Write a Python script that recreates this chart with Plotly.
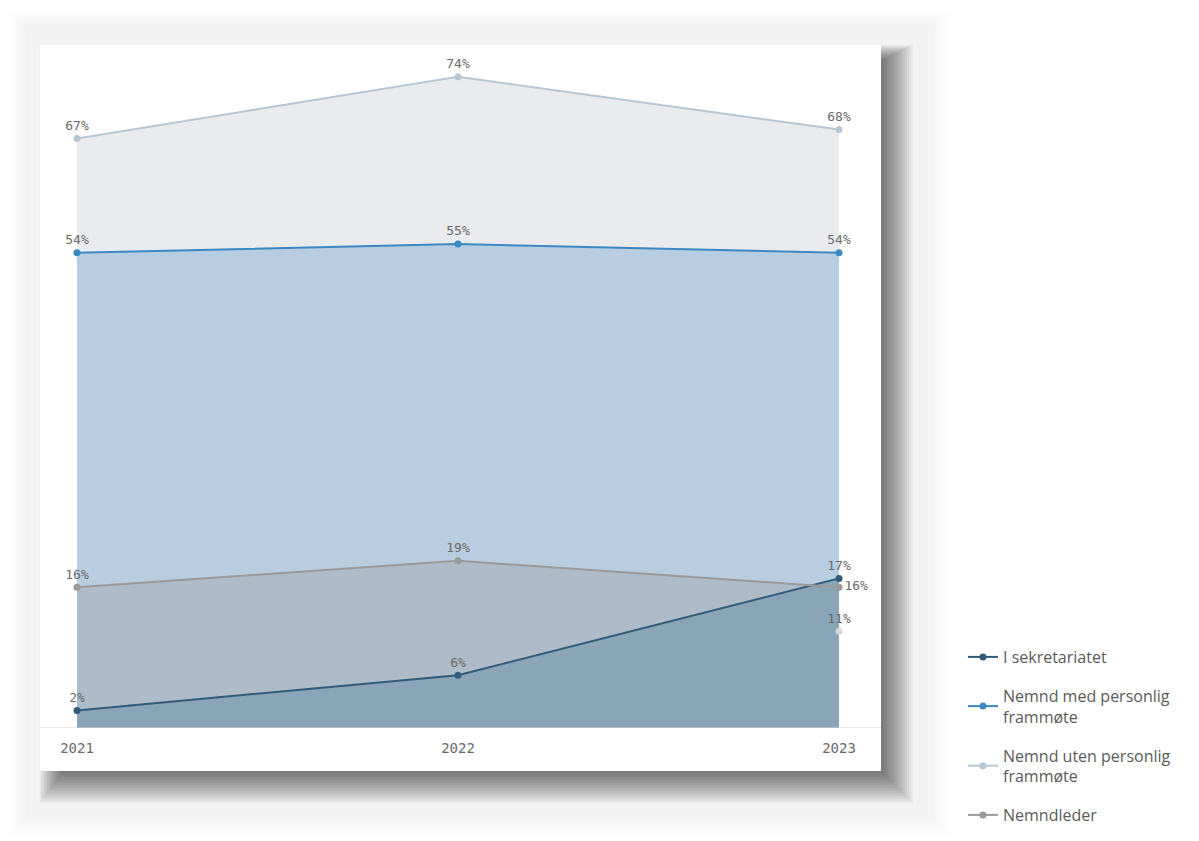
import plotly.graph_objects as go

# ---------------- data ----------------
years = [2021, 2022, 2023]
year_labels = ["2021", "2022", "2023"]
sekretariatet = [2, 6, 17]
nemnd_med = [54, 55, 54]
nemnd_uten = [67, 74, 68]
nemndleder = [16, 19, 16]
ekstra_year = [2023]
ekstra_value = [11]

names = {
    "sek": "I sekretariatet",
    "med": "Nemnd med personlig<br>frammøte",
    "uten": "Nemnd uten personlig<br>frammøte",
    "led": "Nemndleder",
}

# ---------------- geometry (page pixels; the page body has an 8px margin) ----------------
OFF = 8
W, H = 1199 - OFF, 841 - OFF
CARD_L, CARD_R, CARD_T, CARD_B = 40, 881, 45, 771
BASE_Y = 728
ML, MR, MT, MB = CARD_L - OFF, W - (CARD_R - OFF), CARD_T - OFF, H - (BASE_Y - OFF)
PW, PH = W - ML - MR, H - MT - MB

def px(x):  # page x -> paper
    return (x - OFF - ML) / PW

def py(y):  # page y -> paper
    return (H - MB - (y - OFF)) / PH

def cx(x):  # page x -> container fraction
    return (x - OFF) / W

def cy(y):  # page y -> container fraction
    return 1 - (y - OFF) / H

label_font = dict(family="DejaVu Sans Mono", size=13, color="#6a6a6a")
tick_font = dict(family="DejaVu Sans Mono", size=14, color="#6a6a6a")

fig = go.Figure()

# Filled areas (drawn from largest to smallest)
fills = [
    (nemnd_uten, "#e9ebef"),
    (nemnd_med, "#b8cde0"),
    (nemndleder, "#adbcc8"),
    (sekretariatet, "#8aa5b7"),
]
for vals, col in fills:
    fig.add_trace(go.Scatter(
        x=years, y=vals, mode="none", fill="tozeroy", fillcolor=col,
        showlegend=False, hoverinfo="skip"))

def txt(vals):
    return [f"{v}%" for v in vals]

lines = [
    ("sek", sekretariatet, "#2f5b79", ["top center"] * 3),
    ("med", nemnd_med, "#3b88c2", ["top center"] * 3),
    ("uten", nemnd_uten, "#b6c6d3", ["top center"] * 3),
    ("led", nemndleder, "#9a9a9a", ["top center", "top center", "middle right"]),
]
for key, vals, col, pos in lines:
    fig.add_trace(go.Scatter(
        x=years, y=vals, name=names[key], legendgroup=key,
        mode="lines+markers+text", text=txt(vals), textposition=pos,
        textfont=label_font,
        line=dict(color=col, width=2), marker=dict(color=col, size=7)))

fig.add_trace(go.Scatter(
    x=ekstra_year, y=ekstra_value, mode="markers+text", text=txt(ekstra_value),
    textposition="top center", textfont=label_font, showlegend=False,
    marker=dict(color="#d3d8dc", size=7)))

# Outer faint glow, drop shadow, white card
shapes = []
for k in range(6):
    x0, y0, x1, y1 = 10 + 3 * k, 10 + 3 * k, 948 - 3 * k, 836 - 3 * k
    shapes.append(dict(type="rect", xref="paper", yref="paper",
                       x0=px(x0), x1=px(x1), y0=py(y1), y1=py(y0),
                       fillcolor="rgba(0,0,0,0.006)", line=dict(width=0),
                       layer="below"))
for k in range(16):
    x0, y0 = 62 - 1.5 * k, 60 - 1.0 * k
    x1, y1 = 883 + 2 * k, 773 + 2 * k
    shapes.append(dict(type="rect", xref="paper", yref="paper",
                       x0=px(x0), x1=px(x1), y0=py(y1), y1=py(y0),
                       fillcolor="rgba(0,0,0,0.038)", line=dict(width=0),
                       layer="below"))
shapes.append(dict(type="rect", xref="paper", yref="paper",
                   x0=px(CARD_L), x1=px(CARD_R), y0=py(CARD_B), y1=py(CARD_T),
                   fillcolor="white", line=dict(width=0), layer="below"))

fig.update_layout(
    width=W, height=H,
    margin=dict(l=ML, r=MR, t=MT, b=MB, autoexpand=False),
    paper_bgcolor="white", plot_bgcolor="rgba(0,0,0,0)",
    shapes=shapes,
    xaxis=dict(range=[2021 - 37 / 381, 2023 + 42 / 381], tickvals=years,
               ticktext=year_labels, showgrid=False, zeroline=False,
               showline=False, ticks="", tickfont=tick_font, ticklabelstandoff=10,
               fixedrange=True),
    yaxis=dict(range=[0, PH / 8.8], showgrid=False, zeroline=False,
               showticklabels=False, showline=False, fixedrange=True),
    legend=dict(xref="container", yref="container",
                x=cx(963), y=cy(640), xanchor="left", yanchor="top",
                traceorder="grouped", tracegroupgap=15,
                font=dict(family="Open Sans", size=16, color="#5a5a5a"),
                bgcolor="rgba(0,0,0,0)"),
    showlegend=True,
)

# baseline of the card
fig.add_shape(type="line", xref="paper", yref="y", x0=0, x1=1, y0=0, y1=0,
              line=dict(color="#d4d4d4", width=1))

fig.write_html("out.html")
